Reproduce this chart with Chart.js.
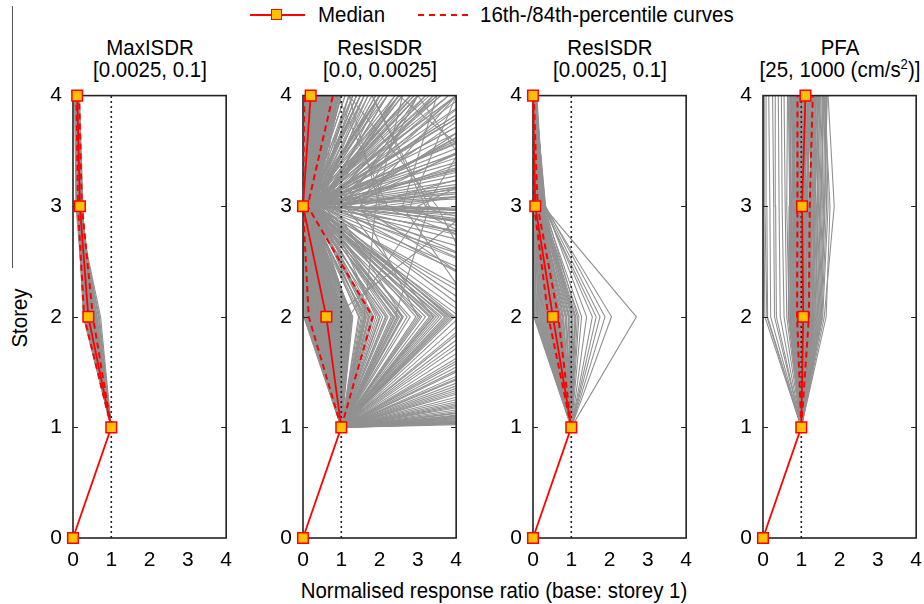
<!DOCTYPE html>
<html>
<head>
<meta charset="utf-8">
<script src="https://cdn.jsdelivr.net/npm/chart.js@4.4.1/dist/chart.umd.min.js"></script>
<style>
  html, body { margin: 0; padding: 0; background: #fff; }
  body { width: 924px; height: 604px; position: relative; overflow: hidden;
         font-family: "Liberation Sans", Arial, Helvetica, sans-serif; color: #000; }
  .panel { position: absolute; top: 72px; }
  .title { position: absolute; width: 230px; text-align: center; font-size: 22px; line-height: 22px; top: 37px;
           transform: scaleX(0.93); transform-origin: 50% 50%; }
  .title sup { font-size: 14px; line-height: 0; }
  .xlabel { position: absolute; left: 0; width: 988px; text-align: center; top: 578px; font-size: 22px;
            transform: scaleX(0.93); transform-origin: 494px 50%; }
  .ylabel { position: absolute; left: 20px; top: 318px; font-size: 22px; transform: translate(-50%, -50%) rotate(-90deg) scaleX(0.93); white-space: nowrap; }
  .edge { position: absolute; left: 12px; top: 6px; width: 1px; height: 262px; background: #555; }
  .legend { position: absolute; top: 3px; left: 0; height: 24px; font-size: 22px; }
  .legend .txt { position: absolute; top: 0; white-space: nowrap; line-height: 24px; transform: scaleX(0.93); transform-origin: 0 50%; }
  .legend .solid { position: absolute; top: 11px; height: 2px; background: #ff0000; }
  .legend .mark { position: absolute; top: 6px; width: 9px; height: 9px; background: #ffc000; border: 1.5px solid #ff0000; }
  .legend .dash { position: absolute; top: 11px; height: 0; border-top: 2px dashed #ff0000; }
</style>
</head>
<body>
<div class="edge"></div>
<div class="legend">
  <div class="solid" style="left:250px;width:55px"></div>
  <div class="mark" style="left:271px"></div>
  <div class="txt" style="left:318px">Median</div>
  <div class="dash" style="left:418px;width:50px"></div>
  <div class="txt" style="left:480px">16th-/84th-percentile curves</div>
</div>

<div class="title" style="left:35px">MaxISDR<br>[0.0025, 0.1]</div>
<div class="title" style="left:265px">ResISDR<br>[0.0, 0.0025]</div>
<div class="title" style="left:495px">ResISDR<br>[0.0025, 0.1]</div>
<div class="title" style="left:725px">PFA<br>[25, 1000 (cm/s<sup>2</sup>)]</div>

<div class="panel" style="left:38px"><canvas id="p0" width="204" height="506"></canvas></div>
<div class="panel" style="left:268px"><canvas id="p1" width="204" height="506"></canvas></div>
<div class="panel" style="left:498px"><canvas id="p2" width="204" height="506"></canvas></div>
<div class="panel" style="left:728px"><canvas id="p3" width="204" height="506"></canvas></div>

<div class="ylabel">Storey</div>
<div class="xlabel">Normalised response ratio (base: storey 1)</div>

<script>
// Storey levels and axis ticks
const storeys = [0, 1, 2, 3, 4];
const xTicks = [0, 1, 2, 3, 4];
const yTicks = [0, 1, 2, 3, 4];

// Medians (storeys 0..4)
const medMaxISDR   = [0, 1, 0.40, 0.18, 0.11];
const medResLow    = [0, 1, 0.61, 0.00, 0.20];
const medResHigh   = [0, 1, 0.52, 0.06, 0.00];
const medPFA       = [0, 1, 1.05, 1.02, 1.11];

// 16th / 84th percentile curves (storeys 1..4)
const p16MaxISDR = [1, 0.29, 0.13, 0.09];
const p84MaxISDR = [1, 0.52, 0.23, 0.16];
const p16ResLow  = [1, 0.15, 0.00, 0.04];
const p84ResLow  = [1, 1.82, 0.12, 0.78];
const p16ResHigh = [1, 0.40, 0.03, 0.00];
const p84ResHigh = [1, 0.66, 0.12, 0.02];
const p16PFA     = [1, 0.89, 0.90, 0.90];
const p84PFA     = [1, 1.20, 1.22, 1.30];

// Individual records: ratios at storeys 2, 3, 4 (storey 1 is the base = 1)
const recMaxISDR = [
  [0.27,0.12,0.06],[0.29,0.16,0.09],[0.30,0.10,0.05],[0.32,0.19,0.11],[0.33,0.14,0.08],
  [0.35,0.21,0.12],[0.36,0.12,0.07],[0.37,0.17,0.10],[0.38,0.23,0.14],[0.39,0.15,0.09],
  [0.40,0.19,0.12],[0.41,0.13,0.10],[0.42,0.20,0.13],[0.43,0.16,0.11],[0.44,0.22,0.15],
  [0.45,0.18,0.12],[0.46,0.14,0.09],[0.47,0.21,0.14],[0.48,0.17,0.11],[0.50,0.24,0.16],
  [0.51,0.15,0.10],[0.53,0.19,0.13],[0.55,0.12,0.08],[0.57,0.22,0.15],[0.59,0.10,0.07],
  [0.61,0.18,0.12],[0.63,0.09,0.06],[0.66,0.14,0.10],[0.69,0.08,0.05],[0.72,0.11,0.08],
  [0.34,0.26,0.17],[0.31,0.08,0.04],
  [0.28,0.14,0.08],[0.31,0.17,0.10],[0.33,0.20,0.12],[0.36,0.15,0.09],[0.39,0.18,0.11],
  [0.41,0.16,0.10],[0.43,0.19,0.12],[0.45,0.15,0.11],[0.47,0.18,0.13],[0.49,0.20,0.12],
  [0.52,0.17,0.11],[0.54,0.21,0.14],[0.58,0.16,0.10],[0.62,0.13,0.09],[0.67,0.12,0.08]
];

const recResLow = [
  [0.02,0.01,0.03],[0.05,0.02,0.10],[0.08,0.00,0.05],[0.10,0.04,0.20],[0.12,0.03,0.15],
  [0.15,0.06,0.30],[0.18,0.02,0.08],[0.20,0.08,0.40],[0.22,0.05,0.25],[0.25,0.10,0.50],
  [0.28,0.03,0.12],[0.30,0.07,0.35],[0.33,0.12,0.60],[0.35,0.04,0.18],[0.38,0.09,0.45],
  [0.40,0.14,0.70],[0.43,0.06,0.22],[0.45,0.11,0.55],[0.48,0.02,0.28],[0.50,0.16,0.80],
  [0.53,0.08,0.38],[0.55,0.13,0.65],[0.58,0.05,0.15],[0.60,0.18,0.90],[0.63,0.10,0.42],
  [0.65,0.03,0.20],[0.68,0.15,0.75],[0.70,0.07,0.32],[0.73,0.20,0.95],[0.75,0.12,0.52],
  [0.78,0.04,0.10],[0.80,0.17,0.62],[0.83,0.09,0.48],[0.85,0.22,0.85],[0.88,0.06,0.26],
  [0.90,0.14,0.58],[0.93,0.25,1.00],[0.95,0.10,0.36],[0.98,0.18,0.70],[1.00,0.05,0.16],
  [1.03,0.28,0.88],[1.06,0.12,0.44],[1.10,0.20,0.66],[1.14,0.08,0.30],[1.18,0.30,0.92],
  [1.22,0.15,0.50],[1.26,0.24,0.78],[1.30,0.11,0.40],[0.35,0.33,0.60],[0.15,0.30,0.20],
  [0.03,0.05,0.12],[0.07,0.08,0.22],[0.11,0.01,0.35],[0.14,0.10,0.06],[0.17,0.04,0.48],
  [0.19,0.13,0.14],[0.21,0.02,0.58],[0.24,0.07,0.09],[0.26,0.15,0.32],[0.29,0.01,0.68],
  [0.31,0.09,0.04],[0.34,0.18,0.44],[0.36,0.05,0.26],[0.39,0.12,0.82],[0.41,0.03,0.11],
  [0.44,0.16,0.38],[0.47,0.08,0.64],[0.49,0.20,0.19],[0.52,0.04,0.72],[0.54,0.11,0.07],
  [0.57,0.23,0.54],[0.59,0.06,0.29],[0.62,0.14,0.86],[0.64,0.02,0.13],[0.67,0.19,0.46],
  [0.69,0.09,0.95],[0.72,0.26,0.24],[0.74,0.05,0.60],[0.77,0.13,0.05],[0.79,0.21,0.76],
  [0.82,0.03,0.34],[0.84,0.16,0.98],[0.87,0.08,0.17],[0.89,0.27,0.52],[0.92,0.12,0.70],
  [0.94,0.01,0.27],[0.97,0.22,0.84],[0.99,0.09,0.12],[1.02,0.17,0.56],[1.05,0.04,0.40],
  [1.08,0.25,0.74],[1.12,0.10,0.22],[1.16,0.19,0.62],[1.20,0.06,0.46],[1.24,0.29,0.90],
  [1.28,0.14,0.34],[0.46,0.27,0.68],[0.58,0.32,0.80],[0.25,0.24,0.50],[0.10,0.20,0.75],
  [1.45,0.20,0.6],[1.52,0.15,1.2],[1.58,0.25,0.8],[1.62,0.10,2.0],[1.66,0.30,0.5],
  [1.70,0.18,1.5],[1.74,0.22,3.0],[1.78,0.12,0.9],[1.85,0.28,1.8],[1.95,0.35,0.7],
  [2.08,0.20,2.5],[2.15,0.14,1.1],[2.22,0.30,4.2],[2.30,0.25,1.6],[2.38,0.18,0.8],
  [2.45,0.40,2.2],[2.52,0.22,5.5],[2.62,0.15,1.3],[2.72,0.32,3.4],[2.80,0.20,1.9],
  [2.95,0.45,0.9],[3.10,0.28,2.8],[3.20,0.17,1.4],[3.30,0.35,6.5],[3.42,0.24,2.1],
  [3.55,0.38,3.6],[3.62,0.20,1.0],[3.70,0.30,8.0],[3.80,0.50,2.4],[3.90,0.26,4.8],
  [3.96,0.42,1.7],[1.90,0.60,3.2],[2.60,0.80,4.0],[3.40,1.10,3.0],[2.00,0.08,0.4],
  [1.48,0.10,0.9],[1.55,0.28,2.6],[1.64,0.05,0.7],[1.72,0.35,1.3],[1.82,0.16,4.0],
  [2.02,0.26,1.2],[2.18,0.09,3.6],[2.34,0.36,0.9],[2.48,0.12,1.5],[2.58,0.30,2.9],
  [3.05,0.10,1.6],[3.35,0.22,0.8],[3.48,0.14,5.0],[3.75,0.18,2.0],[3.85,0.36,1.2],
  [4.3,0.30,2.0],[4.8,0.5,3.5],[5.5,0.25,1.5],[6.2,0.8,5.0],[7.0,0.4,2.6],
  [8.0,1.2,7.0],[9.0,0.35,3.0],[10,2.0,1.2],[12,0.6,4.5],[14,3.0,9.0],
  [16,0.45,2.2],[18,5.0,3.0],[20,0.7,6.0],[24,1.5,12],[28,0.5,3.8],
  [32,8.0,5.0],[38,0.9,7.5],[45,2.5,20],[55,0.6,4.0],[65,12,8.0],
  [80,1.8,15],[100,0.8,6.0],[6.5,4.5,10],[11,6.0,2.5],[25,3.2,1.8],
  [5.0,3.5,1.2],[9.5,10,15],[40,20,30],[15,2.2,0.9],[7.5,1.0,18],
  [4.1,0.2,1.0],[4.5,0.6,2.5],[5.2,0.3,0.8],[5.8,1.5,3.0],[6.8,0.2,1.4],
  [7.8,0.6,2.0],[8.5,2.8,4.0],[10.5,0.4,1.6],[13,0.9,3.4],[17,0.3,2.8],
  [22,1.1,5.5],[30,0.4,2.5],[35,4.0,7.0],[50,1.0,9.0],[60,0.3,3.0],
  [75,5.5,6.5],[90,0.5,11],[120,2.0,25],[4.6,2.6,3.5],[6.0,7.0,9.0],
  [0.30,0.10,1.5],[0.45,0.05,2.0],[0.60,0.15,2.8],[0.75,0.08,3.5],[0.90,0.20,4.5],
  [1.05,0.12,6.0],[0.25,0.18,7.5],[0.50,0.06,10],[0.70,0.22,14],[0.85,0.10,20],
  [1.15,0.25,30],[0.40,0.14,45],[0.65,0.04,1.3],[0.95,0.28,1.9],[1.20,0.09,2.4],
  [0.20,0.16,3.2],[0.55,0.24,5.0],[0.80,0.02,8.5],[1.00,0.19,12],[0.35,0.11,17],
  [0.70,0.30,25],[0.15,0.07,60],[1.25,0.13,3.8],[0.45,0.21,6.8],[0.95,0.05,2.2],
  [0.22,0.12,1.1],[0.38,0.20,1.7],[0.52,0.09,2.5],[0.66,0.17,3.3],[0.82,0.06,4.0],
  [0.98,0.23,5.5],[1.12,0.14,9.0],[0.28,0.04,13],[0.48,0.26,22],[0.72,0.13,35],
  [0.88,0.18,1.4],[1.08,0.03,2.9],[0.18,0.21,4.8],[0.62,0.10,7.0],[0.42,0.29,11],
  [1.60,1.90,2.6],[2.40,3.30,1.8],[1.20,3.20,5.0],[0.80,4.50,6.0],[3.00,1.50,4.0]
];

const recResHigh = [
  [0.02,0.01,0.00],[0.06,0.03,0.01],[0.10,0.02,0.02],[0.14,0.05,0.00],[0.18,0.04,0.03],
  [0.22,0.07,0.01],[0.26,0.03,0.02],[0.30,0.06,0.04],[0.34,0.09,0.02],[0.38,0.05,0.01],
  [0.40,0.08,0.03],[0.43,0.11,0.05],[0.46,0.06,0.02],[0.49,0.10,0.04],[0.52,0.13,0.03],
  [0.55,0.08,0.06],[0.58,0.12,0.02],[0.61,0.15,0.05],[0.64,0.10,0.03],[0.67,0.14,0.07],
  [0.70,0.18,0.04],[0.73,0.12,0.02],[0.76,0.16,0.06],[0.80,0.20,0.08],[0.84,0.14,0.03],
  [0.88,0.22,0.05],[0.92,0.18,0.09],[0.96,0.25,0.04],[1.00,0.20,0.06],[1.04,0.28,0.10],
  [1.08,0.16,0.03],[1.12,0.24,0.07],[1.16,0.30,0.05],[1.20,0.22,0.08],[1.27,0.26,0.04],
  [1.40,0.32,0.06],[1.55,0.29,0.05],[1.65,0.27,0.09],[1.75,0.30,0.07],[1.88,0.33,0.06],
  [2.05,0.30,0.08],[2.70,0.27,0.05],
  [0.04,0.02,0.01],[0.08,0.04,0.00],[0.12,0.06,0.02],[0.16,0.03,0.01],[0.20,0.05,0.03],
  [0.24,0.08,0.02],[0.28,0.04,0.00],[0.32,0.07,0.03],[0.36,0.10,0.02],[0.42,0.06,0.04],
  [0.45,0.09,0.01],[0.48,0.12,0.03],[0.51,0.07,0.05],[0.54,0.11,0.02],[0.57,0.14,0.04],
  [0.60,0.09,0.03],[0.63,0.13,0.06],[0.66,0.17,0.02],[0.69,0.11,0.04],[0.72,0.15,0.05],
  [0.78,0.19,0.03],[0.86,0.17,0.07],[0.94,0.21,0.04],[1.02,0.24,0.06],[1.10,0.20,0.05]
];

const recPFA = [
  [0.05,0.02,0.02],[0.10,0.05,0.03],[0.12,0.10,0.08],[0.20,0.18,0.15],[0.30,0.28,0.25],
  [0.35,0.33,0.32],[0.45,0.42,0.40],[0.55,0.50,0.48],[0.62,0.58,0.55],
  [0.66,0.68,0.70],[0.70,0.72,0.74],[0.72,0.70,0.75],[0.75,0.78,0.80],[0.78,0.76,0.82],
  [0.80,0.83,0.85],[0.82,0.85,0.80],[0.85,0.88,0.90],[0.87,0.84,0.92],[0.90,0.92,0.95],
  [0.92,0.95,1.00],[0.94,0.90,0.98],[0.96,0.99,1.05],[0.98,1.00,1.02],[1.00,1.03,1.08],
  [1.02,0.98,1.10],[1.04,1.06,1.12],[1.06,1.10,1.15],[1.08,1.05,1.18],[1.10,1.14,1.20],
  [1.12,1.16,1.25],[1.14,1.12,1.22],[1.16,1.20,1.30],[1.18,1.22,1.28],[1.20,1.26,1.35],
  [1.22,1.24,1.32],[1.25,1.30,1.40],[1.28,1.35,1.45],[1.30,1.32,1.38],[1.33,1.40,1.50],
  [1.36,1.42,1.48],[1.40,1.48,1.55],[1.44,1.52,1.58],[1.48,1.58,1.62],[1.52,1.62,1.66],
  [1.56,1.70,1.64],[1.60,1.86,1.70],[1.65,1.75,1.60],[0.68,0.62,0.64],[0.74,0.70,0.66],
  [0.88,0.80,0.78],[1.05,0.95,0.90],[1.15,1.02,0.96],
  [0.67,0.70,0.72],[0.71,0.74,0.70],[0.73,0.75,0.78],[0.77,0.80,0.76],[0.79,0.81,0.86],
  [0.81,0.79,0.84],[0.83,0.87,0.88],[0.86,0.90,0.86],[0.89,0.86,0.94],[0.91,0.94,0.92],
  [0.93,0.97,1.02],[0.95,0.93,1.00],[0.97,1.01,1.06],[0.99,1.04,1.00],[1.01,0.99,1.06],
  [1.03,1.07,1.10],[1.05,1.08,1.16],[1.07,1.12,1.10],[1.09,1.07,1.20],[1.11,1.15,1.24],
  [1.13,1.18,1.16],[1.15,1.13,1.26],[1.17,1.21,1.32],[1.19,1.25,1.24],[1.21,1.27,1.38],
  [1.24,1.28,1.34],[1.27,1.33,1.42],[1.29,1.38,1.36],[1.32,1.36,1.46],[1.35,1.45,1.52],
  [1.38,1.44,1.42],[1.42,1.50,1.60],[1.46,1.55,1.56],[1.50,1.60,1.68],[1.54,1.66,1.62]
];

const RED = '#ff0000';
const GREY = 'rgb(145,145,145)';
const FONT = { family: '"Liberation Sans", Arial, sans-serif', size: 21 };

// Frame with inward ticks, drawn above the records and the x = 1 reference line
const framePlugin = {
  id: 'frame',
  afterDatasetDraw(chart, args) {
    if (chart.data.datasets[args.index].label !== 'ref') return;
    const { ctx, chartArea: a, scales } = chart;
    ctx.save();
    ctx.strokeStyle = '#222';
    ctx.lineWidth = 1.6;
    ctx.strokeRect(a.left, a.top, a.right - a.left, a.bottom - a.top);
    ctx.lineWidth = 1;
    yTicks.slice(1, -1).forEach(v => {
      const y = Math.round(scales.y.getPixelForValue(v)) + 0.5;
      ctx.beginPath();
      ctx.moveTo(a.left, y); ctx.lineTo(a.left + 5, y);
      ctx.moveTo(a.right, y); ctx.lineTo(a.right - 5, y);
      ctx.stroke();
    });
    ctx.restore();
  }
};

function profile(values, levels) {
  return values.map((v, i) => ({ x: v, y: levels[i] }));
}

function buildPanel(id, med, p16, p84, records) {
  const upper = storeys.slice(1);
  const datasets = [
    { label: 'Median', data: profile(med, storeys), showLine: true, borderColor: RED, borderWidth: 1.8,
      pointStyle: 'rect', pointRadius: 7.5, pointBackgroundColor: '#ffc000', pointBorderColor: RED,
      pointBorderWidth: 1.5, clip: false },
    { label: 'p16', data: profile(p16, upper), showLine: true, borderColor: RED, borderWidth: 2,
      borderDash: [6, 4], pointRadius: 0 },
    { label: 'p84', data: profile(p84, upper), showLine: true, borderColor: RED, borderWidth: 2,
      borderDash: [6, 4], pointRadius: 0 },
    { label: 'ref', data: [{ x: 1, y: 0 }, { x: 1, y: 4 }], showLine: true, borderColor: '#222',
      borderWidth: 1.6, borderDash: [2, 3], pointRadius: 0 }
  ];
  records.forEach(r => {
    datasets.push({ label: 'rec', data: profile([1].concat(r), upper), showLine: true,
      borderColor: GREY, borderWidth: 1.1, pointRadius: 0 });
  });

  new Chart(document.getElementById(id), {
    type: 'scatter',
    data: { datasets },
    plugins: [framePlugin],
    options: {
      responsive: false,
      animation: false,
      devicePixelRatio: 1,
      layout: { padding: { top: 10, right: 15, left: 0, bottom: 0 } },
      plugins: { legend: { display: false }, tooltip: { enabled: false } },
      elements: { line: { tension: 0 } },
      scales: {
        x: {
          type: 'linear', min: 0, max: 4,
          afterBuildTicks: s => { s.ticks = xTicks.map(v => ({ value: v })); },
          afterFit: s => { s.height = 40; },
          grid: { display: false, drawTicks: false },
          border: { display: false },
          ticks: { color: '#000', font: FONT, padding: 10, maxRotation: 0 }
        },
        y: {
          type: 'linear', min: 0, max: 4,
          afterBuildTicks: s => { s.ticks = yTicks.map(v => ({ value: v })); },
          afterFit: s => { s.width = 35; },
          grid: { display: false, drawTicks: false },
          border: { display: false },
          ticks: { color: '#000', font: FONT, padding: 11 }
        }
      }
    }
  });
}

buildPanel('p0', medMaxISDR, p16MaxISDR, p84MaxISDR, recMaxISDR);
buildPanel('p1', medResLow,  p16ResLow,  p84ResLow,  recResLow);
buildPanel('p2', medResHigh, p16ResHigh, p84ResHigh, recResHigh);
buildPanel('p3', medPFA,     p16PFA,     p84PFA,     recPFA);
</script>
</body>
</html>
